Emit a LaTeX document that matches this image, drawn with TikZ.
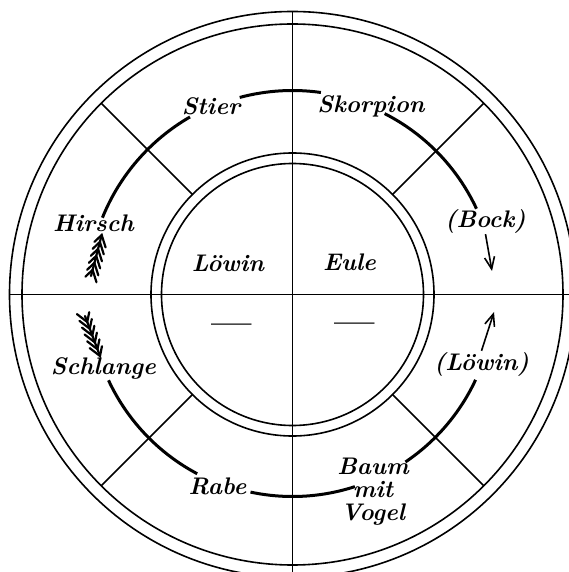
\documentclass[tikz,border=0pt]{standalone}
\usepackage{fontspec}
\usetikzlibrary{arrows.meta,calc}

\tikzset{
  ring/.style={line width=1.6pt},
  track/.style={line width=3pt},
  fletch/.style={line width=2.2pt,line cap=round},
  pointer/.style={line width=1.6pt,-{Straight Barb[length=12pt,width=10pt,line width=1.6pt]}},
  lab/.style={font=\fontsize{24}{23}\selectfont\bfseries\itshape,inner sep=1pt,align=center},
  dashlab/.style={font=\fontsize{36}{36}\selectfont\bfseries,inner sep=1pt},
}
% feathered tail: #1 front of stem, #2 back of stem
\newcommand{\fletching}[2]{%
  \draw[fletch] #1 -- #2;
  \foreach \t in {0,0.17,0.34,0.51,0.68,0.85}{
    \coordinate (fp) at ($#1!\t!#2$);
    \draw[fletch] ($(fp)!13pt!32:#2$) -- (fp) -- ($(fp)!10pt!-32:#2$);
  }
}

\begin{document}
\begin{tikzpicture}[x=1pt,y=1pt]
\useasboundingbox (-292.5,-277.5) rectangle (275.5,294.5);
% rings
\draw[ring] (0,0) circle[radius=283];
\draw[ring] (0,0) circle[radius=270.5];
\draw[ring] (0,0) circle[radius=141.5];
\draw[ring] (0,0) circle[radius=131];
% cross
\draw[ring] (0,283) -- (0,-283);
\draw[ring] (-283,0) -- (283,0);
% diagonals
\foreach \a in {45,135,225,315}
  \draw[ring] (\a:141.5) -- (\a:270.5);
% upper track
\draw[track] (158:205) arc[start angle=158,end angle=120,radius=205];
\draw[track] (105:204) arc[start angle=105,end angle=82,radius=204];
\draw[track] (63:203) arc[start angle=63,end angle=25,radius=203];
% lower track
\draw[track] (-155:203) arc[start angle=-155,end angle=-118,radius=203];
\draw[track] (-102:202) arc[start angle=-102,end angle=-72,radius=202];
\draw[track] (-56:202) arc[start angle=-56,end angle=-25,radius=202];
% labels
\node[lab] (stier) at (-81.5,188.5) {Stier};
\node[lab] (skorpion) at (78.5,188.5) {Skorpion};
\node[lab] (hirsch) at (-199,71.5) {Hirsch};
\node[lab] (bock) at (193,73.5) {(Bock)};
\node[lab] (loewin) at (-64.5,31.5) {Löwin};
\node[lab] (eule) at (57,32.5) {Eule};
\node[dashlab] (dashl) at (-61,-34.5) {---};
\node[dashlab] (dashr) at (62.5,-33.5) {---};
\node[lab] (schlange) at (-189,-73.5) {Schlange};
\node[lab] (loewinb) at (189,-69.5) {(Löwin)};
\node[lab] (rabe) at (-75,-191.5) {Rabe};
\node[lab] (baum) at (80.5,-197.5) {Baum\\mit\\Vogel};
% arrows
\coordinate (bocktip) at (199.5,23.5);
\coordinate (loewintip) at (201.5,-17.5);
\draw[pointer] (bock.south) -- (bocktip);
\draw[pointer] (loewinb.north) -- (loewintip);
% tails
\fletching{(-190.8,59.5)}{(-201.5,18.5)}
\fletching{(-192.5,-61.5)}{(-207.5,-21.5)}
\end{tikzpicture}
\end{document}
